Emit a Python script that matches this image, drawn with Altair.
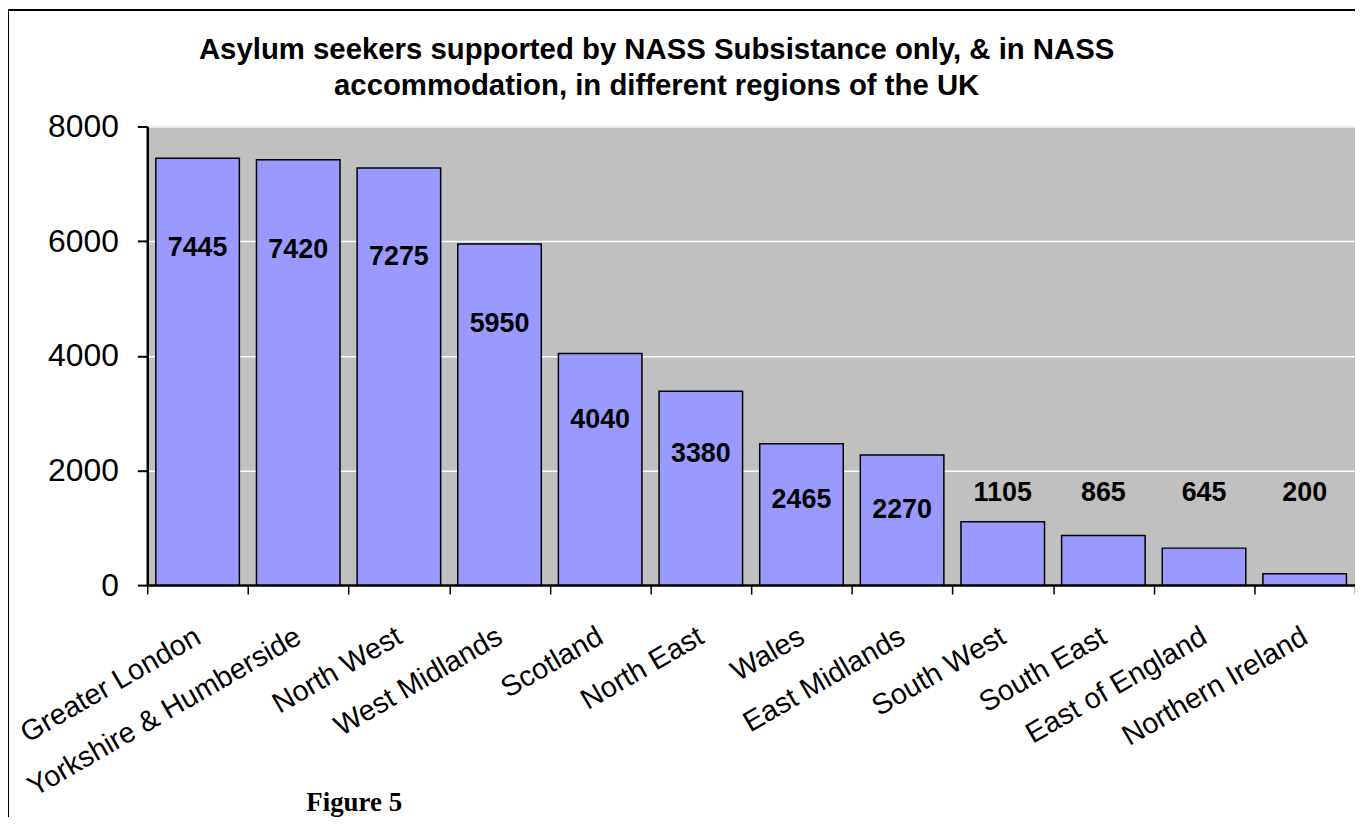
import altair as alt
import pandas as pd

regions = ["Greater London", "Yorkshire & Humberside", "North West", "West Midlands",
           "Scotland", "North East", "Wales", "East Midlands", "South West",
           "South East", "East of England", "Northern Ireland"]
values = [7445, 7420, 7275, 5950, 4040, 3380, 2465, 2270, 1105, 865, 645, 200]
y_ticks = [0, 2000, 4000, 6000, 8000]
title_lines = ["Asylum seekers supported by NASS Subsistance only, & in NASS",
               "accommodation, in different regions of the UK"]
caption = "Figure 5"

df = pd.DataFrame({"region": regions, "value": values})

W, H = 1214, 461

xenc = alt.X("region:N", sort=regions, title=None,
             scale=alt.Scale(paddingInner=0, paddingOuter=0),
             axis=alt.Axis(labelAngle=-30, labelAlign="right", labelBaseline="middle",
                           labelFontSize=29, labelFont="Liberation Sans", labelColor="black",
                           labelPadding=40, tickBand="extent", tickSize=9, tickColor="black",
                           tickWidth=1.5, domainColor="black", domainWidth=2.5,
                           labelOverlap=False, labelLimit=400))
yenc = alt.Y("value:Q", title=None,
             scale=alt.Scale(domain=[0, 8000], nice=False),
             axis=alt.Axis(values=y_ticks, labelFontSize=32, labelFont="Liberation Sans",
                           labelColor="black", labelPadding=19, tickSize=10,
                           tickColor="black", tickWidth=2, domainColor="black",
                           domainWidth=2.5, gridColor="white", gridWidth=1.5,
                           format="d"))

bars = alt.Chart(df).mark_bar(color="#9999FF", stroke="black", strokeWidth=1.5,
                              width=alt.RelativeBandSize(0.83)).encode(x=xenc, y=yenc)

labels = alt.Chart(df).transform_calculate(
    ly="datum.value > 2000 ? datum.value * 0.88 - 680 : 1600"
).mark_text(fontSize=27, fontWeight="bold", font="Liberation Sans", color="black",
            baseline="middle").encode(
    x=alt.X("region:N", sort=regions),
    y=alt.Y("ly:Q"),
    text=alt.Text("value:Q", format="d"))

tdf = pd.DataFrame({"line": title_lines, "i": list(range(len(title_lines)))})
title = alt.Chart(tdf).transform_calculate(
    ty="datum.i * 36 - 68"
).mark_text(font="Liberation Sans", fontWeight="bold", fontSize=29.5, color="black",
            align="center", baseline="alphabetic").encode(
    x=alt.value(512), y=alt.Y("ty:Q", scale=None), text="line:N")

cap = alt.Chart(pd.DataFrame({"t": [caption]})).mark_text(
    font="Liberation Serif", fontWeight="bold", fontSize=27, color="black",
    align="center", baseline="middle").encode(
    x=alt.value(208), y=alt.value(680), text="t:N")

border = alt.Chart(pd.DataFrame({"a": [0]})).mark_rect(
    fill=None, stroke="black", strokeWidth=2, clip=False).encode(
    x=alt.value(-140), x2=alt.value(W + 30), y=alt.value(-117), y2=alt.value(H + 300))

chart = alt.layer(bars, labels, title, cap, border).properties(
    width=W, height=H,
    autosize=alt.AutoSizeParams(type="none"),
    padding={"left": 140, "top": 117, "right": 0, "bottom": 231},
).configure(background="white"
).configure_view(fill="#C0C0C0", stroke="#808080", strokeWidth=1)

chart.save("out.html", embed_options={"renderer": "svg", "actions": False})
